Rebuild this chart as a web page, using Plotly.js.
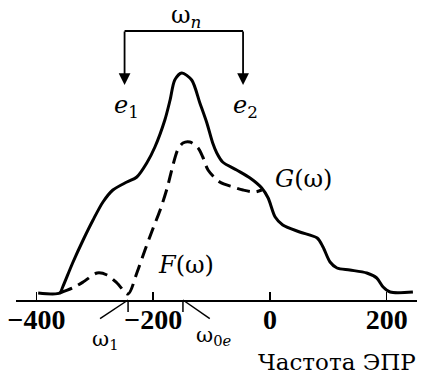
<!DOCTYPE html>
<html><head><meta charset="utf-8">
<script src="https://cdn.plot.ly/plotly-3.0.1.min.js"></script>
<style>html,body{margin:0;padding:0;background:#fff;}#chart{width:424px;height:376px;}</style>
</head><body><div id="chart"></div>
<script>
// G(ω) – solid curve
const gX = [-397,-360,-355,-338,-320,-303,-286,-269,-245,-228,-211,-197,-180,-171,-163,-151,-134,-120,-108,-98,-91,-81,-57,-34,-14,-3,9,22,51,81,91,103,115,137,166,183,194,206,245];
const gY = [7,7,13,37,60,80,98,110,118,123,137,153,180,200,220,227,220,197,177,157,147,138,130,122,112,102,83,75,68,62,53,38,32,30,27,22,13,8,8];
// F(ω) – dashed curve
const fX = [-360,-338,-320,-296,-279,-262,-243,-228,-214,-200,-188,-176,-166,-158,-149,-137,-123,-115,-106,-86,-63,-46,-26,-14];
const fY = [7,12,18,27,25,17,6,27,50,72,90,112,135,150,157,158,152,143,130,118,113,110,108,110];
// axis ticks
const tickVals = [-400,-200,0,200];
const tickText = ['−400','−200','0','200'];
// bracket ω_n between e1 and e2
const bracketX = [-249,-46];
const bracketTop = 269, arrowTip = 215;
// marked frequencies on the axis
const markX = [-243,-149];
const markEndX = [-291,-103];
const markLabels = ['ω<sub>1</sub>','ω<sub>0<i>e</i></sub>'];

const serif = 'DejaVu Serif';
const data = [
  {x:gX,y:gY,mode:'lines',line:{color:'#000',width:3,shape:'spline',smoothing:0.8},hoverinfo:'skip'},
  {x:fX,y:fY,mode:'lines',line:{color:'#000',width:3,dash:'13px,7px',shape:'spline',smoothing:0.8},hoverinfo:'skip'}
];
const shapes = [
  {type:'line',xref:'x',yref:'y',x0:bracketX[0],x1:bracketX[1],y0:bracketTop,y1:bracketTop,line:{color:'#000',width:1.8}}
];
markX.forEach((m,i)=>{
  shapes.push({type:'line',xref:'x',yref:'paper',x0:m,x1:m,y0:0,y1:-0.04,line:{color:'#000',width:1.5}});
  shapes.push({type:'line',xref:'x',yref:'paper',x0:m,x1:markEndX[i],y0:0,y1:-0.062,line:{color:'#000',width:1.5}});
});
const ann = [];
bracketX.forEach(bx=>{
  ann.push({x:bx,y:arrowTip,ax:bx,ay:bracketTop+0.9,axref:'x',ayref:'y',xref:'x',yref:'y',text:'',showarrow:true,arrowhead:2,arrowsize:1.3,arrowwidth:1.8,arrowcolor:'#000'});
});
const tf = () => ({family:serif,size:24,color:'#000'});
const lab = (o) => Object.assign({showarrow:false,xanchor:'center',yanchor:'middle',font:tf()},o);
ann.push(lab({x:(bracketX[0]+bracketX[1])/2+3,y:284,xref:'x',yref:'y',text:'ω<sub><i>n</i></sub>'}));
ann.push(lab({x:bracketX[0]+4,y:194,xref:'x',yref:'y',text:'<i>e</i><sub>1</sub>'}));
ann.push(lab({x:bracketX[1]+4,y:194,xref:'x',yref:'y',text:'<i>e</i><sub>2</sub>'}));
ann.push(lab({x:57,y:121,xref:'x',yref:'y',text:'<i>G</i>(ω)'}));
ann.push(lab({x:-144,y:35,xref:'x',yref:'y',text:'<i>F</i>(ω)'}));
ann.push(lab({x:-282,y:-0.133,xref:'x',yref:'paper',text:markLabels[0],font:{family:serif,size:21,color:'#000'}}));
ann.push(lab({x:-96,y:-0.12,xref:'x',yref:'paper',text:markLabels[1],font:{family:serif,size:21,color:'#000'}}));
ann.push(lab({x:1.003,y:-0.207,xref:'paper',yref:'paper',xanchor:'right',text:'Частота ЭПР',font:{family:serif,size:23,color:'#000'}}));

const layout = {
  width:424,height:376,margin:{l:16,r:7,t:0,b:76},
  paper_bgcolor:'#fff',plot_bgcolor:'#fff',showlegend:false,
  xaxis:{range:[-435,252],showline:true,linecolor:'#000',linewidth:1.5,showgrid:false,zeroline:false,
         ticks:'inside',ticklen:8,tickwidth:1.5,tickcolor:'#000',tickvals:tickVals,
         ticktext:tickText.map(t=>'<b>'+t+'</b>'),
         ticklabelstandoff:-6,
         tickfont:{family:'Liberation Serif',size:28,color:'#000'}},
  yaxis:{range:[0,300],visible:false,showgrid:false,zeroline:false},
  shapes:shapes,annotations:ann
};
Plotly.newPlot('chart',data,layout,{staticPlot:true});
</script></body></html>
